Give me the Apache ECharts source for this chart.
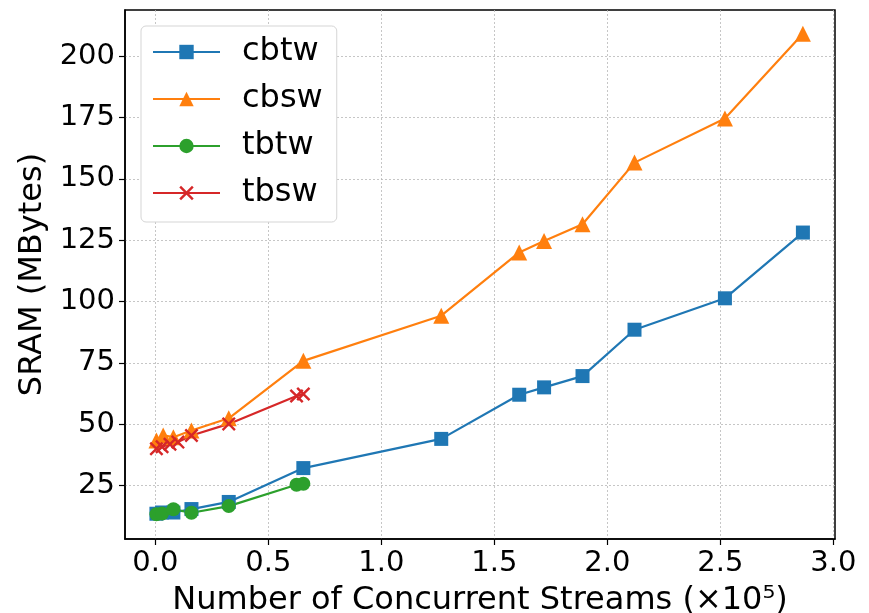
<!DOCTYPE html>
<html><head><meta charset="utf-8">
<script src="https://cdn.jsdelivr.net/npm/echarts@6/dist/echarts.min.js"></script>
<style>html,body{margin:0;padding:0;background:#fff}#c{width:869px;height:613px}</style>
</head><body><div id="c"></div>
<script>
const seriesNames = ['cbtw', 'cbsw', 'tbtw', 'tbsw'];
const cbtwX = [0.005, 0.03, 0.08, 0.16, 0.325, 0.655, 1.265, 1.61, 1.72, 1.89, 2.12, 2.52, 2.865];
const cbtwY = [13.5, 14.0, 14.0, 15.4, 18.3, 32.1, 44.0, 62.0, 65.0, 69.6, 88.5, 101.3, 128.1];
const cbswX = [0.005, 0.035, 0.08, 0.16, 0.325, 0.655, 1.265, 1.61, 1.72, 1.89, 2.12, 2.52, 2.865];
const cbswY = [43.3, 45.4, 44.7, 47.4, 52.4, 75.8, 94.2, 120.0, 124.7, 131.5, 156.6, 174.6, 209.1];
const tbtwX = [0.005, 0.03, 0.08, 0.16, 0.325, 0.625, 0.655];
const tbtwY = [13.3, 13.6, 15.3, 13.9, 16.6, 25.3, 25.7];
const tbswX = [0.005, 0.03, 0.065, 0.1, 0.16, 0.325, 0.625, 0.655];
const tbswY = [40.0, 40.8, 41.8, 42.7, 45.4, 50.1, 61.5, 62.3];
const xTicks = [0, 0.5, 1.0, 1.5, 2.0, 2.5, 3.0];
const yTicks = [25, 50, 75, 100, 125, 150, 175, 200];

const colors = ['#1f77b4', '#ff7f0e', '#2ca02c', '#d62728'];
const xsym = 'path://M0,1.2L1.2,0L5,3.8L8.8,0L10,1.2L6.2,5L10,8.8L8.8,10L5,6.2L1.2,10L0,8.8L3.8,5Z';
const FONT = 'DejaVu Sans';
function pairs(xs, ys) { return xs.map((x, i) => [x, ys[i]]); }

const chart = echarts.init(document.getElementById('c'), null, {renderer: 'canvas'});
const gridLine = {show: true, lineStyle: {color: '#b8b8b8', width: 0.8, type: [2, 2]}};
chart.setOption({
  animation: false,
  backgroundColor: '#fff',
  color: colors,
  textStyle: {fontFamily: FONT},
  grid: {left: 125, top: 10, width: 710, height: 529, containLabel: false, outerBoundsMode: 'none', show: true, borderColor: '#000', borderWidth: 1.5, backgroundColor: 'transparent'},
  legend: {
    orient: 'vertical', left: 141, top: 26,
    data: seriesNames,
    itemWidth: 67, itemHeight: 18, itemGap: 15,
    padding: [10, 14, 13, 11],
    backgroundColor: '#fff', borderColor: '#d5d5d5', borderWidth: 1, borderRadius: 5,
    textStyle: {fontFamily: FONT, fontSize: 32, color: '#000', padding: [0, 0, 0, 17]}
  },
  xAxis: {
    type: 'value', min: -0.134, max: 3.007,
    axisLine: {show: true, onZero: false, lineStyle: {color: '#000', width: 1.5}},
    axisTick: {show: true, inside: false, length: 6, customValues: xTicks, lineStyle: {color: '#000', width: 1.2}},
    axisLabel: {customValues: xTicks, fontFamily: FONT, fontSize: 29, color: '#000', margin: 10, formatter: v => v.toFixed(1)},
    splitLine: gridLine,
    name: 'Number of Concurrent Streams (\u00d710\u2075)', nameLocation: 'middle', nameGap: 46,
    nameTextStyle: {fontFamily: FONT, fontSize: 32, color: '#000'}
  },
  yAxis: {
    type: 'value', min: 3.2, max: 218.8,
    axisLine: {show: true, onZero: false, lineStyle: {color: '#000', width: 1.5}},
    axisTick: {show: true, inside: false, length: 6, customValues: yTicks, lineStyle: {color: '#000', width: 1.2}},
    axisLabel: {customValues: yTicks, fontFamily: FONT, fontSize: 29, color: '#000', margin: 10},
    splitLine: gridLine,
    name: 'SRAM (MBytes)', nameLocation: 'middle', nameGap: 64, nameRotate: 90,
    nameTextStyle: {fontFamily: FONT, fontSize: 32, color: '#000'}
  },
  series: [
    {name: 'cbtw', type: 'line', data: pairs(cbtwX, cbtwY), symbol: 'rect', symbolSize: 14, lineStyle: {width: 2.2}, itemStyle: {color: colors[0]}},
    {name: 'cbsw', type: 'line', data: pairs(cbswX, cbswY), symbol: 'triangle', symbolSize: 16, lineStyle: {width: 2.2}, itemStyle: {color: colors[1]}},
    {name: 'tbtw', type: 'line', data: pairs(tbtwX, tbtwY), symbol: 'circle', symbolSize: 14, lineStyle: {width: 2.2}, itemStyle: {color: colors[2]}},
    {name: 'tbsw', type: 'line', data: pairs(tbswX, tbswY), symbol: xsym, symbolSize: 14, lineStyle: {width: 2.2}, itemStyle: {color: colors[3]}}
  ]
});
</script></body></html>
